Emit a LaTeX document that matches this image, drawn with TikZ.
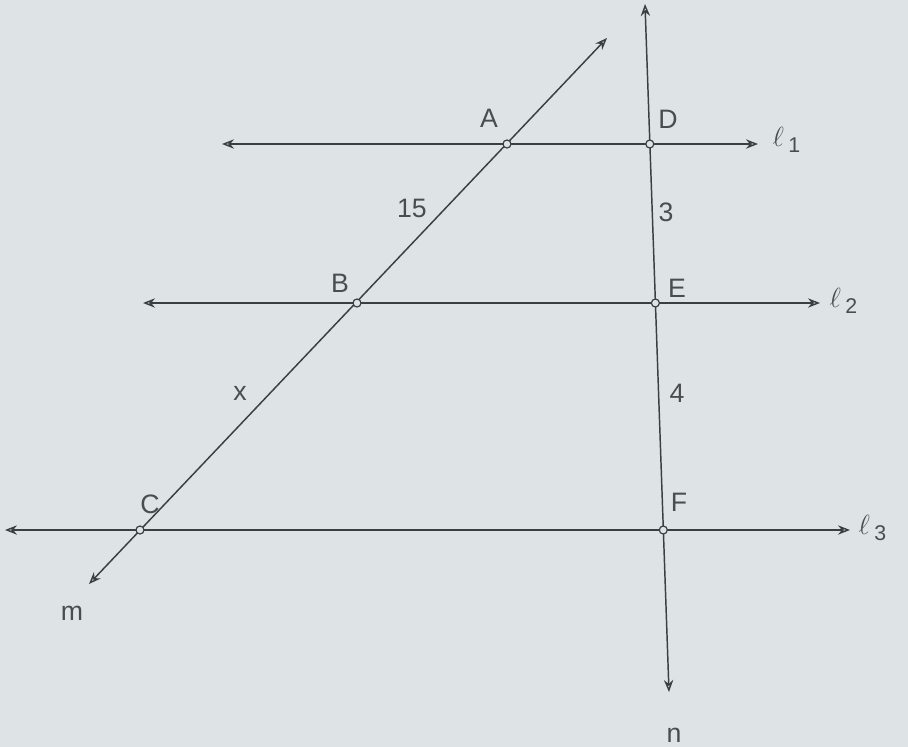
\documentclass[tikz,border=0pt]{standalone}
\usepackage{fontspec}
\setmainfont{Liberation Sans}
\usetikzlibrary{arrows.meta}
\definecolor{paper}{HTML}{DEE3E6}
\definecolor{ink}{HTML}{3C3F42}
\definecolor{txt}{HTML}{4A4D50}
\tikzset{
  ray/.style={draw=ink, line width=1.1pt, {Stealth[open,length=9pt,width=7pt]}-{Stealth[open,length=9pt,width=7pt]}},
  pt/.style={circle, draw=ink, fill=paper, line width=0.9pt, inner sep=0pt, minimum size=6pt},
  lab/.style={text=txt, font=\fontsize{20}{24}\selectfont, inner sep=1pt}
}
\begin{document}
\begin{tikzpicture}[x=0.75pt,y=-0.75pt]
\fill[paper] (0,0) rectangle (908,747);
\useasboundingbox (0,0) rectangle (908,747);
% line ends
\coordinate (l1L) at (222,144); \coordinate (l1R) at (758,144);
\coordinate (l2L) at (143,303); \coordinate (l2R) at (820,303);
\coordinate (l3L) at (5,530);   \coordinate (l3R) at (850,530);
\coordinate (mT) at (607,38);   \coordinate (mB) at (89,584);
\coordinate (nT) at (645,4);    \coordinate (nB) at (669,692);
% lines
\draw[ray] (l1L) -- (l1R);
\draw[ray] (l2L) -- (l2R);
\draw[ray] (l3L) -- (l3R);
\draw[ray] (mB) -- (mT);
\draw[ray] (nB) -- (nT);
% points
\node[pt] (A) at (507,144) {};
\node[pt] (B) at (357,303) {};
\node[pt] (C) at (140,530) {};
\node[pt] (D) at (649.8,144) {};
\node[pt] (E) at (655.4,303) {};
\node[pt] (F) at (663.3,530) {};
% labels
\node[lab] (tA) at (489,118) {A};
\node[lab] (tB) at (340,283) {B};
\node[lab] (tC) at (150,504) {C};
\node[lab] (tD) at (668,119) {D};
\node[lab] (tE) at (677,288) {E};
\node[lab] (tF) at (679,502) {F};
\node[lab] (t15) at (412,208) {15};
\node[lab] (tx) at (240,393) {x};
\node[lab] (t3) at (666,212) {3};
\node[lab] (t4) at (677,393) {4};
\node[lab] (tm) at (72,613) {m};
\node[lab] (tn) at (674,735) {n};
\node[lab, anchor=west] (tl1) at (771,140) {$\ell$\,\raisebox{-5pt}{\fontsize{16}{18}\selectfont 1}};
\node[lab, anchor=west] (tl2) at (828,301) {$\ell$\,\raisebox{-5pt}{\fontsize{16}{18}\selectfont 2}};
\node[lab, anchor=west] (tl3) at (857,528) {$\ell$\,\raisebox{-5pt}{\fontsize{16}{18}\selectfont 3}};
\end{tikzpicture}
\end{document}
